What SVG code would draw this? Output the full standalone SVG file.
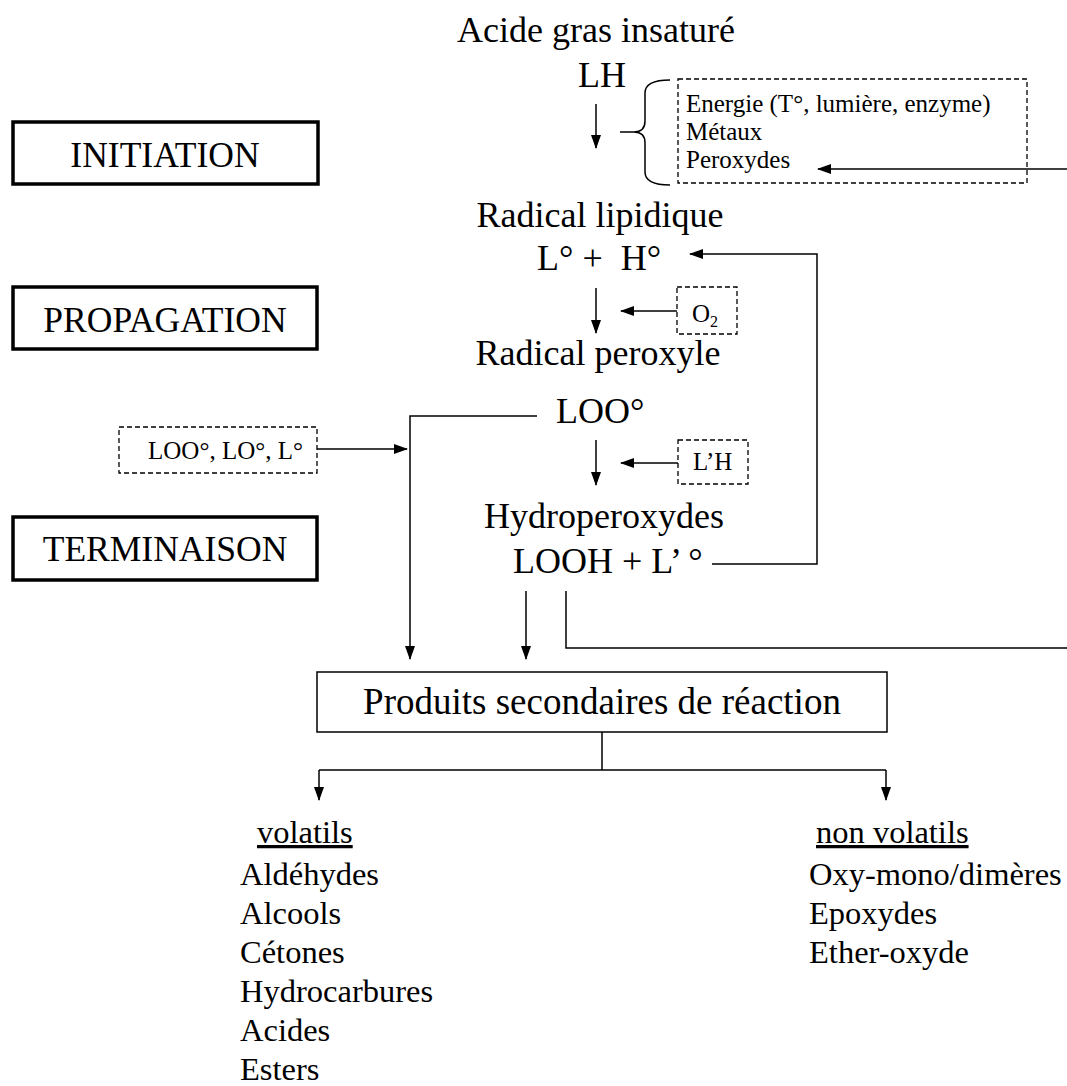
<svg xmlns="http://www.w3.org/2000/svg" width="1067" height="1086" viewBox="0 0 1067 1086">
<style>
text{font-family:"Liberation Serif","Times New Roman",serif;fill:#000}
.big{font-size:36px}
.lbl{font-size:35.5px}
.sm{font-size:25px}
.lst{font-size:32.5px}
.stage{fill:#fff;stroke:#000;stroke-width:3.5}
.dash{fill:none;stroke:#000;stroke-width:1.3;stroke-dasharray:5 3}
.ln{fill:none;stroke:#000;stroke-width:1.5}
.arr{fill:none;stroke:#000;stroke-width:1.5;marker-end:url(#ah)}
</style>
<defs>
<marker id="ah" markerUnits="userSpaceOnUse" markerWidth="14" markerHeight="10" refX="13" refY="5" orient="auto">
<path d="M0,0 L14,5 L0,10 z" fill="#000"/>
</marker>
</defs>
<rect width="1067" height="1086" fill="#fff"/>

<g id="stage-initiation"><rect class="stage" x="13" y="122" width="305" height="62"/><text class="lbl" x="165" y="167" text-anchor="middle">INITIATION</text></g>
<g id="stage-propagation"><rect class="stage" x="13" y="287" width="304" height="62"/><text class="lbl" x="165" y="332" text-anchor="middle">PROPAGATION</text></g>
<g id="stage-terminaison"><rect class="stage" x="13" y="517" width="304" height="63"/><text class="lbl" x="165" y="561" text-anchor="middle">TERMINAISON</text></g>

<g id="node-lh"><text class="big" x="596" y="42" text-anchor="middle">Acide gras insaturé</text><text class="big" x="578" y="87">LH</text></g>
<g id="node-initiators"><rect class="dash" x="678" y="79" width="349" height="104"/><text class="sm" x="686" y="112">Energie (T°, lumière, enzyme)</text><text class="sm" x="686" y="140">Métaux</text><text class="sm" x="686" y="168">Peroxydes</text></g>
<g id="node-radical"><text class="big" x="600" y="227" text-anchor="middle">Radical lipidique</text><text class="big" x="537" y="270" xml:space="preserve">L° +  H°</text></g>
<g id="node-o2"><rect class="dash" x="677" y="287" width="60" height="47"/><text class="sm" x="692" y="322">O<tspan font-size="16" dy="5">2</tspan></text></g>
<g id="node-peroxyle"><text class="big" x="598" y="365" text-anchor="middle">Radical peroxyle</text><text class="big" x="556" y="423">LOO°</text></g>
<g id="node-radicals"><rect class="dash" x="119" y="427" width="198" height="46"/><text class="sm" x="148" y="459">LOO°, LO°, L°</text></g>
<g id="node-lh2"><rect class="dash" x="678" y="440" width="70" height="44"/><text class="sm" x="693" y="470">L’H</text></g>
<g id="node-hydro"><text class="big" x="484" y="528">Hydroperoxydes</text><text class="big" x="513" y="573">LOOH + L’ °</text></g>
<g id="node-produits"><rect x="317" y="672" width="570" height="60" fill="#fff" stroke="#000" stroke-width="1.5"/><text x="602" y="714" text-anchor="middle" font-size="37">Produits secondaires de réaction</text></g>
<g id="node-volatils"><text class="lst" x="257" y="843" text-decoration="underline">volatils</text><text class="lst" x="240" y="885">Aldéhydes</text><text class="lst" x="240" y="924">Alcools</text><text class="lst" x="240" y="963">Cétones</text><text class="lst" x="240" y="1002">Hydrocarbures</text><text class="lst" x="240" y="1041">Acides</text><text class="lst" x="240" y="1080">Esters</text></g>
<g id="node-nonvolatils"><text class="lst" x="816" y="843" text-decoration="underline">non volatils</text><text class="lst" x="809" y="885">Oxy-mono/dimères</text><text class="lst" x="809" y="924">Epoxydes</text><text class="lst" x="809" y="963">Ether-oxyde</text></g>

<g id="connectors">
<path class="arr" d="M596,104 L596,148"/>
<path class="ln" d="M620,132 L634,132 Q645,132 645,121 L645,93 Q645,80 670,80 M634,132 Q645,132 645,143 L645,172 Q645,185 670,185"/>
<path class="arr" d="M1067,169 L818,169"/>
<path class="arr" d="M712,564 L817,564 L817,254 L690,254"/>
<path class="arr" d="M596,288 L596,333"/>
<path class="arr" d="M677,311 L621,311"/>
<path class="arr" d="M537,416 L410,416 L410,659"/>
<path class="arr" d="M317,449 L407,449"/>
<path class="arr" d="M596,440 L596,485"/>
<path class="arr" d="M678,463 L621,463"/>
<path class="arr" d="M526,591 L526,659"/>
<path class="ln" d="M566,591 L566,648 L1067,648"/>
<path class="ln" d="M602,732 L602,770 M319,770 L886,770"/>
<path class="arr" d="M319,770 L319,800"/>
<path class="arr" d="M886,770 L886,800"/>
</g>
</svg>
